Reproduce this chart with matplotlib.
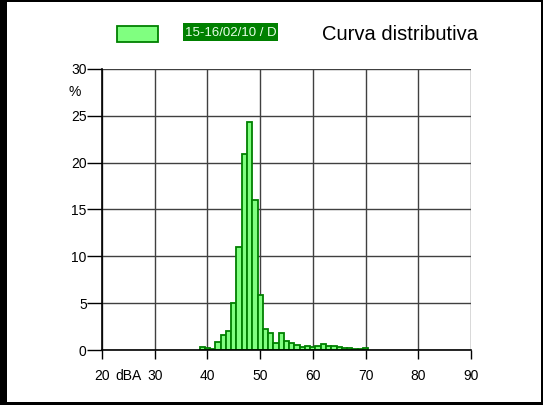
import matplotlib
matplotlib.use('Agg')
import matplotlib.pyplot as plt
import matplotlib.patches as patches

plt.rcParams['font.family'] = ['Liberation Sans', 'DejaVu Sans']

# --- data: level distribution, % of time per 1 dBA class ---
levels = [39, 40, 41, 42, 43, 44, 45, 46, 47, 48, 49, 50, 51, 52, 53, 54,
          55, 56, 57, 58, 59, 60, 61, 62, 63, 64, 65, 66, 67, 68, 69, 70]
percent = [0.35, 0.2, 0.1, 0.9, 1.65, 2.0, 5.0, 11.0, 20.9, 24.3, 16.0, 5.9, 2.2, 1.8, 0.8, 1.8,
           1.0, 0.7, 0.5, 0.3, 0.45, 0.3, 0.45, 0.65, 0.4, 0.45, 0.3, 0.2, 0.25, 0.1, 0.1, 0.2]
x_ticks = [20, 30, 40, 50, 60, 70, 80, 90]
y_ticks = [0, 5, 10, 15, 20, 25, 30]
series_label = '15-16/02/10 / D'
title = 'Curva distributiva'

W, H = 543, 405
fig = plt.figure(figsize=(W / 100, H / 100), dpi=100)
fig.patch.set_facecolor('white')

def px(x, y):
    return x / W, 1 - y / H

# axes box in pixels: left 102, right 471, top 69, bottom 350
ax = fig.add_axes([102 / W, 1 - 350 / H, (471 - 102) / W, (350 - 69) / H])
ax.set_xlim(20, 90)
ax.set_ylim(0, 30)

ax.bar(levels, percent, width=1.0, align='center', color='#80ff80',
       edgecolor='#008000', linewidth=1.3, zorder=3)

ax.set_xticks(x_ticks)
ax.set_yticks(y_ticks)
ax.grid(True, color='#404040', linewidth=1.0, zorder=1)
ax.set_axisbelow(True)
for s in ['top', 'right']:
    ax.spines[s].set_visible(False)
for s in ['left', 'bottom']:
    ax.spines[s].set_color('black')
    ax.spines[s].set_linewidth(1.2)
    ax.spines[s].set_zorder(4)
ax.tick_params(axis='y', length=11, width=1.0, pad=0, labelsize=10, colors='black')
ax.tick_params(axis='x', length=6.5, width=1.0, pad=7, labelsize=10, colors='black')

# unit labels
fig.text(*px(75, 92), '%', fontsize=10, ha='center', va='center')
fig.text(*px(128, 375.5), 'dBA', fontsize=10, ha='center', va='center')

# legend-like header
fig.patches.append(patches.Rectangle(px(117, 42), 41 / W, 16 / H, transform=fig.transFigure,
                                     facecolor='#80ff80', edgecolor='#008000', linewidth=1.3))
fig.patches.append(patches.Rectangle(px(183, 41), 95 / W, 18 / H, transform=fig.transFigure,
                                     facecolor='#008000', edgecolor='none'))
fig.text(*px(230.5, 32.5), series_label, fontsize=9.5, color='#e8ffe8',
         ha='center', va='center')
fig.text(*px(322, 34), title, fontsize=14.5, ha='left', va='center')

# outer frame (thick left, thin elsewhere)
fig.patches.append(patches.Rectangle((0, 0), 7 / W, 1, transform=fig.transFigure,
                                     facecolor='black', edgecolor='none'))
fig.patches.append(patches.Rectangle((0, 0), 1, 3 / H, transform=fig.transFigure,
                                     facecolor='black', edgecolor='none'))
fig.patches.append(patches.Rectangle((0, 1 - 1.5 / H), 1, 1.5 / H, transform=fig.transFigure,
                                     facecolor='black', edgecolor='none'))
fig.patches.append(patches.Rectangle((1 - 2 / W, 0), 2 / W, 1, transform=fig.transFigure,
                                     facecolor='black', edgecolor='none'))

fig.savefig('out.png', dpi=100, facecolor='white')
